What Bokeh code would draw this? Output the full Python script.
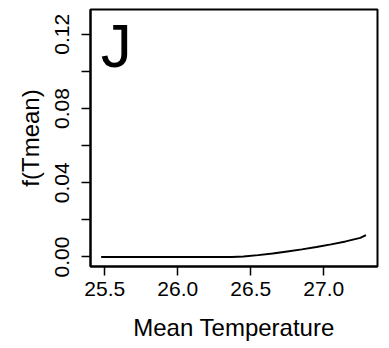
from bokeh.plotting import figure
from bokeh.models import Range1d, FixedTicker, Label
from bokeh.embed import file_html
from bokeh.resources import INLINE

# ---- data ----
temp = [25.475, 25.8, 26.1, 26.37, 26.45, 26.55, 26.65, 26.75, 26.85, 26.95, 27.05, 27.15, 27.25, 27.289]
fval = [0.0, 0.0, 0.0, 0.0, 0.0002, 0.0010, 0.0019, 0.0030, 0.0041, 0.0054, 0.0068, 0.0084, 0.0103, 0.0118]

x_ticks = [25.5, 26.0, 26.5, 27.0]
x_tick_labels = ["25.5", "26.0", "26.5", "27.0"]
y_ticks = [0.0, 0.02, 0.04, 0.06, 0.08, 0.10, 0.12]
y_tick_labels = ["0.00", "", "0.04", "", "0.08", "", "0.12"]

panel_letter = "J"
x_label = "Mean Temperature"
y_label = "f(Tmean)"

FONT = "Liberation Sans"

p = figure(
    frame_width=287, frame_height=257,
    min_border_left=90, min_border_right=12, min_border_top=9, min_border_bottom=82,
    x_range=Range1d(25.402, 27.368), y_range=Range1d(-0.00513, 0.1334),
    output_backend="svg", toolbar_location=None,
    background_fill_color="white", border_fill_color="white",
)
p.grid.visible = False
p.outline_line_color = "black"
p.outline_line_width = 2
p.outline_line_alpha = 1.0

p.line(temp, fval, line_color="black", line_width=2)

# axes
p.xaxis.ticker = FixedTicker(ticks=x_ticks)
p.xaxis.major_label_overrides = {t: l for t, l in zip(x_ticks, x_tick_labels)}
p.yaxis.ticker = FixedTicker(ticks=y_ticks)
p.yaxis.major_label_overrides = {t: l for t, l in zip(y_ticks, y_tick_labels)}
p.yaxis.major_label_orientation = "vertical"

for ax in (p.xaxis[0], p.yaxis[0]):
    ax.axis_line_color = "black"
    ax.axis_line_width = 2
    ax.major_tick_line_color = "black"
    ax.major_tick_line_width = 1.5
    ax.major_tick_out = 9
    ax.major_tick_in = 0
    ax.minor_tick_line_color = None
    ax.major_label_text_font = FONT
    ax.major_label_text_font_size = "21px"
    ax.major_label_text_color = "black"
    ax.axis_label_text_font = FONT
    ax.axis_label_text_font_size = "24px"
    ax.axis_label_text_font_style = "normal"
    ax.axis_label_text_color = "black"

p.xaxis.axis_label = x_label
p.yaxis.axis_label = y_label
p.xaxis.major_label_standoff = 6
p.xaxis.axis_label_standoff = 15
p.yaxis.major_label_standoff = 12
p.yaxis.axis_label_standoff = 9

p.add_layout(Label(x=25.473, y=0.1140, text=panel_letter, text_font=FONT,
                   text_font_size="62px", text_color="black",
                   text_baseline="alphabetic", text_align="left"))

open("out.html", "w").write(file_html(p, INLINE))
